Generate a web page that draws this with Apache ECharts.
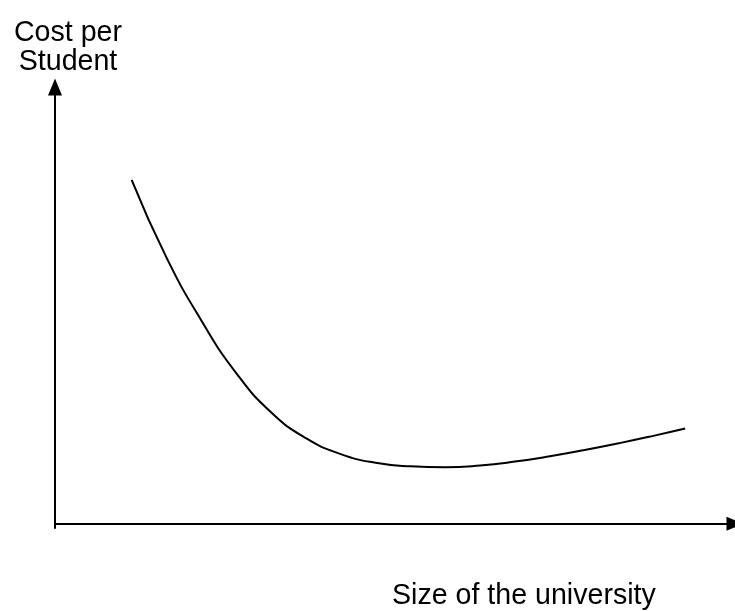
<!DOCTYPE html>
<html>
<head>
<meta charset="utf-8">
<script src="https://cdn.jsdelivr.net/npm/echarts@6/dist/echarts.min.js"></script>
<style>
    html, body { margin: 0; padding: 0; background: #fff; }
    #chart { width: 735px; height: 611px; }
</style>
</head>
<body>
<div id="chart"></div>
<script>
// size of the university (arbitrary units, 0-100)
var sizeValues = [11.27, 16.40, 21.52, 26.65, 31.77, 36.90, 42.02, 47.14, 52.27, 57.39, 62.52, 67.64, 72.77, 77.89, 83.02, 88.14, 92.68];
// cost per student (arbitrary units, 0-100)
var costValues = [78.75, 60.92, 46.53, 34.48, 25.50, 19.56, 15.93, 13.94, 13.12, 12.89, 13.30, 14.21, 15.43, 16.86, 18.44, 20.16, 21.78];

var yTitle = 'Cost per\nStudent';
var xTitle = 'Size of the university';

var curve = [];
for (var i = 0; i < sizeValues.length; i++) {
    curve.push([sizeValues[i], costValues[i]]);
}

var axisLine = {
    show : true,
    onZero : true,
    symbol : ['none', 'triangle'],
    symbolSize : [14, 17],
    lineStyle : { color : '#000', width : 2 }
};

var myChart = echarts.init(document.getElementById('chart'));

myChart.setOption({
    animation : false,
    grid : {
        left : 55,
        right : -3,
        top : 87,
        bottom : 83
    },
    xAxis : {
        type : 'value',
        min : 0,
        max : 100,
        axisLine : axisLine,
        axisTick : { show : false },
        axisLabel : { show : false },
        splitLine : { show : false }
    },
    yAxis : {
        type : 'value',
        min : -1,
        max : 100,
        axisLine : axisLine,
        axisTick : { show : false },
        axisLabel : { show : false },
        splitLine : { show : false }
    },
    graphic : [
        {
            type : 'text',
            x : 68,
            y : 19,
            style : {
                text : yTitle,
                font : '28.6px "Liberation Sans", Arial, sans-serif',
                fill : '#000',
                align : 'center',
                verticalAlign : 'top',
                lineHeight : 29
            }
        },
        {
            type : 'text',
            x : 392,
            y : 582,
            style : {
                text : xTitle,
                font : '28.6px "Liberation Sans", Arial, sans-serif',
                fill : '#000',
                align : 'left',
                verticalAlign : 'top'
            }
        }
    ],
    series : [{
        type : 'line',
        data : curve,
        smooth : 0.5,
        showSymbol : false,
        lineStyle : { color : '#000', width : 2 }
    }]
});
</script>
</body>
</html>
